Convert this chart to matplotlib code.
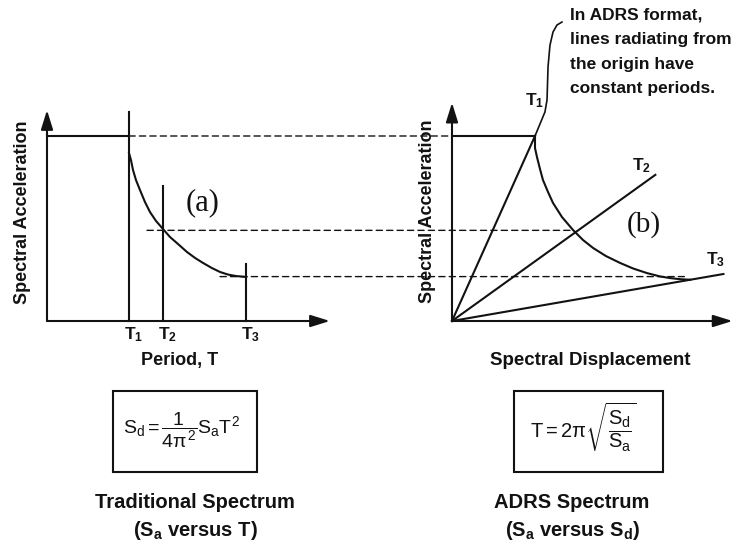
import matplotlib
matplotlib.use('Agg')
import matplotlib.pyplot as plt
import matplotlib as mpl
from matplotlib.patches import Rectangle, ConnectionPatch

mpl.rcParams['font.family'] = ['Liberation Sans', 'DejaVu Sans']
mpl.rcParams['mathtext.fontset'] = 'custom'
mpl.rcParams['mathtext.rm'] = 'Liberation Sans'
mpl.rcParams['mathtext.it'] = 'Liberation Sans'
mpl.rcParams['mathtext.bf'] = 'Liberation Sans:bold'

# traditional spectrum: Sa against period T
period_ticks = [1.0, 1.42, 2.43]
period_tick_labels = [r'$\mathbf{T_1}$', r'$\mathbf{T_2}$', r'$\mathbf{T_3}$']
period_line_tops = [1.13, 0.73, 0.31]
sa_plateau = 1.0

trad_T = [1.0, 1.024, 1.049, 1.085, 1.134, 1.195, 1.256, 1.329, 1.415, 1.50,
          1.598, 1.707, 1.805, 1.902, 2.012, 2.11, 2.207, 2.305, 2.43]
trad_Sa = [0.908, 0.870, 0.816, 0.762, 0.708, 0.643, 0.589, 0.541, 0.497, 0.454,
           0.416, 0.373, 0.341, 0.314, 0.286, 0.265, 0.251, 0.243, 0.238]

# ADRS spectrum: Sa against spectral displacement Sd
adrs_Sd = [1.0, 1.0, 1.024, 1.06, 1.096, 1.157, 1.217, 1.325, 1.458, 1.578,
           1.699, 1.855, 2.024, 2.181, 2.349, 2.506, 2.627, 2.747, 2.87]
adrs_Sa = [1.0, 0.935, 0.886, 0.822, 0.762, 0.697, 0.638, 0.562, 0.492, 0.438,
           0.395, 0.351, 0.314, 0.284, 0.259, 0.241, 0.232, 0.226, 0.223]

ray_end_Sd = [1.0, 2.45, 3.27]
ray_end_Sa = [1.0, 0.79, 0.254]
ray_labels = [r'$\mathbf{T_1}$', r'$\mathbf{T_2}$', r'$\mathbf{T_3}$']

# leader from the T1 point up to the note
leader_Sd = [1.0, 1.12, 1.145, 1.157, 1.18, 1.217, 1.265, 1.325]
leader_Sa = [1.0, 1.13, 1.195, 1.373, 1.49, 1.562, 1.6, 1.616]

# dashed links between the two panels at equal Sa
link_T = [1.0, 1.22, 2.11]
link_Sa = [1.0, 0.49, 0.24]
link_Sd = [1.0, 1.45, 2.80]

LW = 1.5
INK = '#121212'

fig = plt.figure(figsize=(7.35, 5.46), dpi=100)
fig.patch.set_facecolor('white')

ax1 = fig.add_axes([0.05279, 0.39515, 0.4072, 0.44048])
ax1.set_xlim(-0.1, 3.55)
ax1.set_ylim(-0.05, 1.25)
ax1.axis('off')

ax2 = fig.add_axes([0.60367, 0.39515, 0.39524, 0.44048])
ax2.set_xlim(-0.1, 3.4)
ax2.set_ylim(-0.05, 1.25)
ax2.axis('off')

arrow = dict(arrowstyle='-|>,head_length=0.9,head_width=0.28', lw=LW,
             color=INK, mutation_scale=13, shrinkA=0, shrinkB=0)


def draw_axes(ax, xmax, ymax):
    ax.annotate('', xy=(0, ymax), xytext=(0, 0), arrowprops=arrow,
                annotation_clip=False)
    ax.annotate('', xy=(xmax, 0), xytext=(0, 0), arrowprops=arrow,
                annotation_clip=False)


# left panel
draw_axes(ax1, 3.45, 1.14)
ax1.plot([0, period_ticks[0]], [sa_plateau, sa_plateau], color=INK, lw=LW)
for t, top in zip(period_ticks, period_line_tops):
    ax1.plot([t, t], [0, top], color=INK, lw=LW)
ax1.plot(trad_T, trad_Sa, color=INK, lw=LW)
for t, lab in zip(period_ticks, period_tick_labels):
    ax1.text(t + 0.05, -0.022, lab, ha='center', va='top', fontsize=12.5, color=INK)
ax1.text(1.62, -0.215, 'Period, T', ha='center', va='center', fontsize=13,
         fontweight='bold', color=INK)
ax1.text(-0.293, 0.589, 'Spectral Acceleration', rotation=90, ha='center',
         va='center', fontsize=13, fontweight='bold', color=INK)
ax1.text(1.90, 0.638, '(a)', ha='center', va='center', fontsize=22,
         family='Liberation Serif', color=INK)

# right panel
draw_axes(ax2, 3.38, 1.18)
ax2.plot([0, ray_end_Sd[0]], [sa_plateau, sa_plateau], color=INK, lw=LW)
for sd, sa in zip(ray_end_Sd, ray_end_Sa):
    ax2.plot([0, sd], [0, sa], color=INK, lw=LW)
ax2.plot(adrs_Sd, adrs_Sa, color=INK, lw=LW)
ax2.plot(leader_Sd, leader_Sa, color=INK, lw=1.2, clip_on=False)
ax2.text(1.0, 1.19, ray_labels[0], ha='center', va='center', fontsize=12.5, color=INK)
ax2.text(2.28, 0.84, ray_labels[1], ha='center', va='center', fontsize=12.5, color=INK)
ax2.text(3.17, 0.33, ray_labels[2], ha='center', va='center', fontsize=12.5, color=INK)
ax2.text(1.42, 1.695, 'In ADRS format,\nlines radiating from\nthe origin have\nconstant periods.',
         ha='left', va='top', fontsize=12.5, fontweight='bold', color=INK,
         linespacing=1.8)
ax2.text(1.66, -0.215, 'Spectral Displacement', ha='center', va='center',
         fontsize=13.5, fontweight='bold', color=INK)
ax2.text(-0.301, 0.595, 'Spectral Acceleration', rotation=90, ha='center',
         va='center', fontsize=13, fontweight='bold', color=INK)
ax2.text(2.31, 0.52, '(b)', ha='center', va='center', fontsize=21,
         family='Liberation Serif', color=INK)

# dashed Sa links
for t, sa, sd in zip(link_T, link_Sa, link_Sd):
    con = ConnectionPatch(xyA=(t, sa), coordsA=ax1.transData,
                          xyB=(sd, sa), coordsB=ax2.transData,
                          color=INK, lw=1.0, linestyle=(0, (4.5, 3)))
    fig.add_artist(con)

# formula boxes
fig.add_artist(Rectangle((0.1537, 0.1355), 0.1959, 0.1484, transform=fig.transFigure,
                         fill=False, edgecolor=INK, lw=LW))
fig.add_artist(Rectangle((0.6993, 0.1355), 0.2027, 0.1484, transform=fig.transFigure,
                         fill=False, edgecolor=INK, lw=LW))
fig.text(0.2476, 0.2125, r'$S_d = \dfrac{1}{4\pi^2}S_a T^2$', ha='center',
         va='center', fontsize=14, color=INK)
fig.text(0.7932, 0.2179, r'$T = 2\pi\sqrt{\dfrac{S_d}{S_a}}$', ha='center',
         va='center', fontsize=14.5, color=INK)

# captions
fig.text(0.2653, 0.0788, 'Traditional Spectrum', ha='center', va='center',
         fontsize=14.5, fontweight='bold', color=INK)
fig.text(0.2653, 0.0293, r'($\mathbf{S_a}$ versus T)', ha='center', va='center',
         fontsize=14.5, fontweight='bold', color=INK)
fig.text(0.7782, 0.0788, 'ADRS Spectrum', ha='center', va='center',
         fontsize=14.5, fontweight='bold', color=INK)
fig.text(0.7796, 0.0293, r'($\mathbf{S_a}$ versus $\mathbf{S_d}$)', ha='center',
         va='center', fontsize=14.5, fontweight='bold', color=INK)

fig.savefig('out.png', dpi=100, facecolor='white')
plt.close(fig)
